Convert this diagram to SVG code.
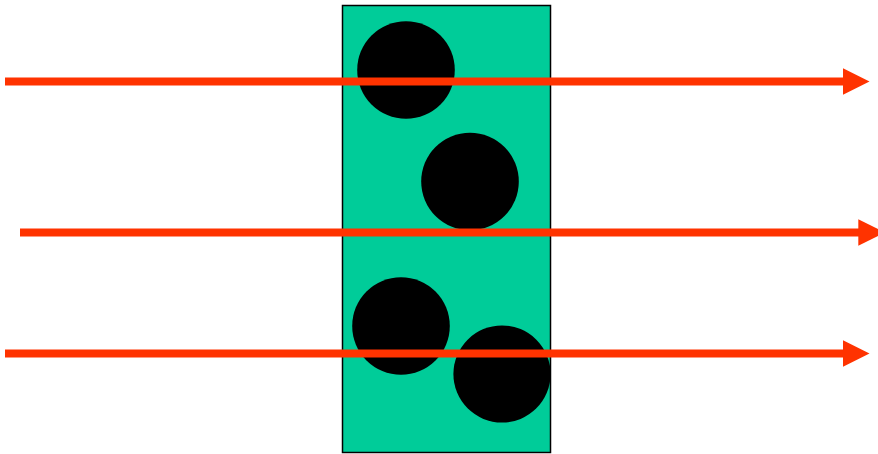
<svg xmlns="http://www.w3.org/2000/svg" width="878" height="454" viewBox="0 0 878 454">
<style>
.slab{fill:#00CC99;stroke:#000;stroke-width:1.5}
.ball{fill:#000}
.ray{stroke:#FF3300;stroke-width:8;fill:none}
.head{fill:#FF3300}
</style>
<rect width="878" height="454" fill="#fff"/>
<g id="slab"><rect class="slab" x="342.5" y="5.5" width="208" height="447"/></g>
<g id="ball1"><circle class="ball" cx="406" cy="70" r="48.8"/></g>
<g id="ball2"><circle class="ball" cx="470" cy="181.5" r="48.8"/></g>
<g id="ball3"><circle class="ball" cx="401" cy="326" r="48.8"/></g>
<g id="ball4"><circle class="ball" cx="502" cy="374" r="48.6"/></g>
<g id="connectors">
<path class="ray" d="M5,81.5 H845"/>
<polygon class="head" points="843,68.3 869.5,81.5 843,94.7"/>
<path class="ray" d="M20,232.5 H860"/>
<polygon class="head" points="858.3,219.3 884.8,232.5 858.3,245.7"/>
<path class="ray" d="M5,353.5 H845"/>
<polygon class="head" points="843,340.3 869.5,353.5 843,366.7"/>
</g>
</svg>
